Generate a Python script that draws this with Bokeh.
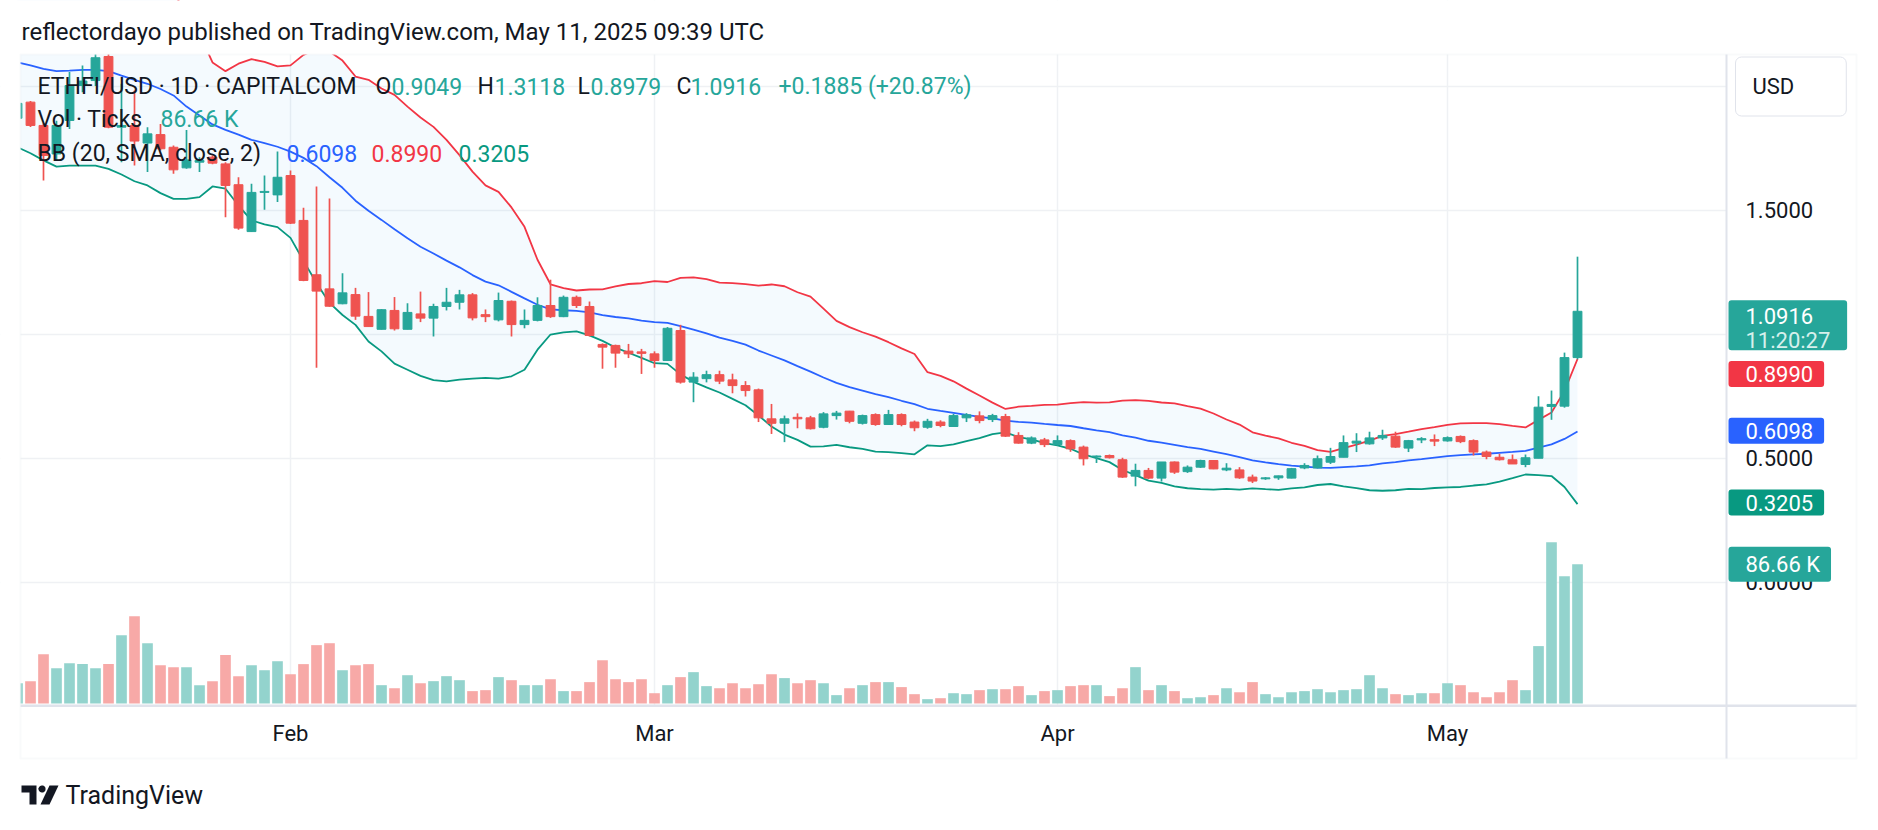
import numpy as np
import pandas as pd
from bokeh.plotting import figure
from bokeh.models import (Range1d, FixedTicker, Label, BoxAnnotation, PolyAnnotation, ColumnDataSource)
from bokeh.embed import file_html
from bokeh.resources import INLINE

# ---------------- data ----------------
dates = pd.date_range("2025-01-11", "2025-05-11", freq="D")

opens = [1.870, 1.935, 1.841, 1.726, 1.861, 2.002, 2.022, 2.119, 1.834, 1.841, 1.770, 1.804, 1.753, 1.670,
         1.693, 1.713, 1.686, 1.602, 1.413, 1.571, 1.561,
         1.639, 1.458, 1.239, 1.182, 1.122, 1.159, 1.071, 1.019, 1.095, 1.019, 1.081, 1.064, 1.111, 1.128,
         1.158, 1.078, 1.057, 1.132, 1.038, 1.055, 1.115, 1.070, 1.148, 1.111, 0.958, 0.954, 0.931, 0.928,
         0.920, 0.893, 1.014, 0.806, 0.820, 0.836, 0.815, 0.792, 0.775, 0.658, 0.640, 0.664, 0.662, 0.624,
         0.671, 0.689, 0.640, 0.675, 0.635, 0.675, 0.645, 0.624, 0.645, 0.627, 0.662, 0.670, 0.655, 0.667,
         0.591, 0.560, 0.573,
         0.554, 0.570, 0.544, 0.504, 0.510, 0.493, 0.427, 0.450, 0.419, 0.484, 0.445, 0.463, 0.490, 0.452,
         0.452, 0.423, 0.416, 0.420, 0.419, 0.460, 0.460, 0.483, 0.503, 0.560, 0.557, 0.581, 0.588, 0.540,
         0.573, 0.574,
         0.569, 0.587, 0.570, 0.524, 0.503, 0.493, 0.474, 0.499, 0.708, 0.709, 0.9049]
highs = [1.950, 1.940, 1.850, 1.860, 2.056, 2.083, 2.160, 2.170, 2.009, 1.982, 1.834, 1.847, 1.760, 1.823,
         1.713, 1.720, 1.693, 1.632, 1.606, 1.639, 1.736,
         1.659, 1.509, 1.595, 1.546, 1.245, 1.186, 1.169, 1.100, 1.149, 1.124, 1.171, 1.122, 1.186, 1.178,
         1.165, 1.099, 1.167, 1.135, 1.099, 1.148, 1.219, 1.155, 1.155, 1.131, 0.962, 0.957, 0.960, 0.940,
         0.930, 1.028, 1.037, 0.846, 0.852, 0.852, 0.840, 0.810, 0.780, 0.718, 0.671, 0.680, 0.670, 0.685,
         0.690, 0.690, 0.675, 0.680, 0.694, 0.680, 0.651, 0.658, 0.652, 0.678, 0.681, 0.688, 0.678, 0.678,
         0.604, 0.587, 0.581,
         0.591, 0.575, 0.550, 0.510, 0.514, 0.501, 0.477, 0.460, 0.484, 0.486, 0.470, 0.493, 0.492, 0.479,
         0.463, 0.433, 0.423, 0.429, 0.460, 0.479, 0.510, 0.541, 0.591, 0.600, 0.606, 0.614, 0.606, 0.573,
         0.584, 0.595,
         0.587, 0.591, 0.575, 0.530, 0.517, 0.514, 0.514, 0.749, 0.772, 0.925, 1.3118]
lows = [1.850, 1.835, 1.619, 1.700, 1.827, 1.975, 2.000, 1.830, 1.693, 1.679, 1.653, 1.740, 1.646, 1.666,
        1.653, 1.685, 1.471, 1.420, 1.411, 1.501, 1.532,
        1.444, 1.213, 0.864, 1.110, 1.120, 1.057, 1.030, 1.018, 1.014, 1.019, 1.048, 0.990, 1.095, 1.099,
        1.055, 1.048, 1.051, 0.990, 1.023, 1.051, 1.065, 1.068, 1.105, 0.990, 0.860, 0.864, 0.903, 0.839,
        0.864, 0.893, 0.800, 0.725, 0.805, 0.798, 0.761, 0.748, 0.645, 0.597, 0.564, 0.620, 0.615, 0.620,
        0.655, 0.640, 0.635, 0.630, 0.633, 0.628, 0.608, 0.618, 0.624, 0.625, 0.645, 0.640, 0.645, 0.585,
        0.558, 0.556, 0.544,
        0.550, 0.525, 0.470, 0.480, 0.498, 0.420, 0.386, 0.415, 0.405, 0.436, 0.440, 0.460, 0.455, 0.447,
        0.416, 0.399, 0.412, 0.412, 0.418, 0.455, 0.458, 0.476, 0.503, 0.524, 0.554, 0.573, 0.541, 0.524,
        0.560, 0.548,
        0.566, 0.560, 0.510, 0.495, 0.490, 0.476, 0.463, 0.499, 0.654, 0.703, 0.8979]
closes = [1.930, 1.841, 1.720, 1.841, 2.002, 2.020, 2.114, 1.834, 1.841, 1.778, 1.807, 1.747, 1.662, 1.702,
          1.700, 1.689, 1.599, 1.427, 1.571, 1.575, 1.632,
          1.447, 1.216, 1.173, 1.112, 1.166, 1.072, 1.030, 1.098, 1.021, 1.087, 1.064, 1.111, 1.128, 1.158,
          1.065, 1.070, 1.135, 1.038, 1.055, 1.115, 1.070, 1.148, 1.115, 0.994, 0.947, 0.923, 0.920, 0.922,
          0.893, 1.023, 0.806, 0.826, 0.836, 0.810, 0.792, 0.772, 0.662, 0.640, 0.658, 0.658, 0.618, 0.678,
          0.681, 0.648, 0.671, 0.635, 0.675, 0.635, 0.622, 0.648, 0.631, 0.671, 0.674, 0.651, 0.671, 0.588,
          0.560, 0.581, 0.554,
          0.570, 0.537, 0.497, 0.508, 0.501, 0.423, 0.450, 0.419, 0.484, 0.443, 0.463, 0.490, 0.456, 0.459,
          0.420, 0.407, 0.420, 0.428, 0.457, 0.470, 0.497, 0.506, 0.562, 0.568, 0.581, 0.591, 0.544, 0.570,
          0.578, 0.568,
          0.582, 0.566, 0.524, 0.506, 0.493, 0.476, 0.501, 0.705, 0.716, 0.9049, 1.0916]
volume_k = [12.6, 13.9, 30.7, 22.0, 25.1, 24.5, 22.0, 24.5, 42.5, 54.3, 37.5, 23.8, 22.6, 22.6, 11.4, 13.9,
            30.1, 17.0, 23.8, 20.7, 26.3,
            18.2, 24.5, 36.3, 37.5, 20.7, 23.8, 24.5, 11.4, 9.5, 17.6, 12.6, 13.9, 17.0, 14.5, 7.7, 8.3,
            16.4, 14.5, 11.4, 11.4, 15.1, 7.7, 7.7, 13.3, 26.9, 15.1, 13.3, 15.1,
            6.4, 11.4, 16.4, 19.5, 10.8, 9.5, 12.6, 9.5, 12.0, 18.2, 15.8, 12.6, 14.5, 12.6, 5.2, 9.5, 11.4,
            13.3, 13.3, 10.2, 5.8, 2.7, 3.3, 6.4, 5.8, 8.3, 8.9, 8.9, 10.8, 5.2, 7.7,
            8.3, 10.8, 11.4, 11.4, 4.6, 9.5, 22.6, 8.3, 11.4, 7.7, 3.3, 3.9, 5.2, 9.5, 7.0, 13.3, 5.8, 3.9,
            7.0, 7.7, 8.9, 7.0, 8.3, 8.9, 17.6, 9.5, 5.8, 5.2, 6.4, 6.4,
            12.6, 11.4, 7.0, 3.9, 7.0, 14.5, 8.3, 35.7, 100.3, 79.2, 86.66]
# Bollinger values for the first 19 days (their 20-day window starts before the visible range)
bb_basis_head = [2.095, 2.083, 2.069, 2.060, 2.062, 2.065, 2.065, 2.060, 2.042, 2.025, 2.009, 1.988,
                 1.962, 1.917, 1.881, 1.845, 1.823, 1.804, 1.783]
bb_lower_head = [1.753, 1.729, 1.700, 1.675, 1.679, 1.679, 1.679, 1.666, 1.643, 1.616, 1.599, 1.568,
                 1.545, 1.545, 1.552, 1.595, 1.586, 1.518, 1.458]
month_ticks = ["2025-02-01", "2025-03-01", "2025-04-01", "2025-05-01"]
price_ticks = [0.0, 0.5, 1.0, 1.5, 2.0]
last_values = dict(open=0.9049, high=1.3118, low=0.8979, close=1.0916, change="+0.1885 (+20.87%)",
                   volume="86.66 K", bb_basis=0.6098, bb_upper=0.8990, bb_lower=0.3205,
                   countdown="11:20:27")

# ---------------- derived ----------------
UP, DN = "#26a69a", "#ef5350"
VUP, VDN = "#93d3cd", "#f7a9a7"
INK = "#131722"
o = np.array(opens); h = np.array(highs); l = np.array(lows); c = np.array(closes)
n = len(c)
basis = np.zeros(n); upper = np.zeros(n); lower = np.zeros(n)
for i in range(n):
    if i >= 19:
        w = c[i - 19:i + 1]
        m, s = w.mean(), w.std()
        basis[i], upper[i], lower[i] = m, m + 2 * s, m - 2 * s
    else:
        basis[i] = bb_basis_head[i]
        lower[i] = bb_lower_head[i]
        upper[i] = 2 * basis[i] - lower[i]

up = c >= o
src = ColumnDataSource(dict(
    x=dates, o=o, h=h, l=l, c=c,
    top=np.maximum(o, c), bottom=np.minimum(o, c),
    color=[UP if u else DN for u in up],
    vcolor=[VUP if u else VDN for u in up],
    vol=volume_k, basis=basis, upper=upper, lower=lower))

DAY = pd.Timedelta(days=1)
FONT = "Roboto"
W, H = 1878, 830
PX_DAY = 13.0          # layout: pixels per daily bar
X_FIRST = 17.0         # layout: page x of first bar

x0 = (dates[0] - DAY * (X_FIRST / PX_DAY)).to_pydatetime()
x1 = (dates[0] + DAY * ((W - X_FIRST) / PX_DAY)).to_pydatetime()

p = figure(width=W, height=H, x_axis_type="datetime",
           x_axis_location=None, y_axis_location=None,
           x_range=Range1d(x0, x1), y_range=Range1d(-1.0020, 2.3448),
           output_backend="svg", toolbar_location=None, title=None,
           min_border_left=0, min_border_right=0, min_border_top=0, min_border_bottom=0)
p.background_fill_color = "white"
p.border_fill_color = "white"
p.outline_line_color = None
p.extra_y_ranges = {"vol": Range1d(-79.0, 437.3)}

tick_ms = [pd.Timestamp(t).value // 10**6 for t in month_ticks]
p.xgrid.ticker = FixedTicker(ticks=tick_ms)
p.ygrid.ticker = FixedTicker(ticks=price_ticks)
p.xgrid.grid_line_color = "#eff1f4"
p.ygrid.grid_line_color = "#eff1f4"
p.xgrid.grid_line_width = 1.5
p.ygrid.grid_line_width = 1.5

# volume
p.vbar(x="x", top="vol", bottom=0, width=DAY * 0.82, fill_color="vcolor", line_color=None,
       source=src, y_range_name="vol")
# Bollinger bands
p.varea(x="x", y1="lower", y2="upper", source=src, fill_color="#2196f3", fill_alpha=0.05)
p.line(x="x", y="upper", source=src, line_color="#f23645", line_width=1.8)
p.line(x="x", y="lower", source=src, line_color="#089981", line_width=1.8)
p.line(x="x", y="basis", source=src, line_color="#2962ff", line_width=1.8)
# candles
p.segment(x0="x", y0="l", x1="x", y1="h", line_color="color", line_width=1.7, source=src)
p.vbar(x="x", top="top", bottom="bottom", width=DAY * 0.68, fill_color="color", line_color="color",
       line_width=1, source=src)


# ---- page furniture (screen units: x from left, y from bottom of the page) ----
def sbox(X0, X1, Y0, Y1, fill="white", line=None, lw=1, level="annotation"):
    return BoxAnnotation(left=X0, right=X1, top=H - Y0, bottom=H - Y1,
                         left_units="screen", right_units="screen", top_units="screen",
                         bottom_units="screen", fill_color=fill if fill else "white",
                         fill_alpha=1 if fill else 0, line_color=line, line_width=lw, level=level)


# mask everything outside the chart pane
p.add_layout(sbox(0, W, 0, 54))
p.add_layout(sbox(0, 20, 0, H))
p.add_layout(sbox(1726, W, 0, H))
p.add_layout(sbox(0, W, 705, H))
# frame lines
p.add_layout(sbox(20, 1856, 54, 758, fill=None, line="#eceef2", lw=2))
p.add_layout(sbox(1725, 1727, 54, 758, fill="#e0e3eb"))
p.add_layout(sbox(20, 1856, 704, 706.5, fill="#e0e3eb"))


def slab(text, X, Y, color=INK, size=22, **kw):
    return Label(x=X, y=H - Y, x_units="screen", y_units="screen", text=text,
                 text_font=FONT, text_font_size=f"{size}px", text_color=color,
                 text_baseline="middle", text_align="left", level="overlay", **kw)


def pbox(text, yv, bg, pad_r, y_off=0, pad_t=5, pad_b=5, rng="default", color="white"):
    # box left edge sits at page x 1728, text starts 17 px further right
    return Label(x=1728, x_units="screen", y=yv, y_units="data", y_range_name=rng,
                 y_offset=y_off, text=text, text_font=FONT, text_font_size="22px",
                 text_color=color, text_baseline="middle", text_align="left",
                 background_fill_color=bg, border_radius=3,
                 padding=dict(left=17, right=pad_r, top=pad_t, bottom=pad_b), level="overlay")


# price scale tick labels
for t in price_ticks:
    p.add_layout(Label(x=1745, x_units="screen", y=t, y_units="data", text=f"{t:.4f}",
                       text_font=FONT, text_font_size="22px", text_color=INK,
                       text_baseline="middle", text_align="left", level="overlay"))
# time scale tick labels
for t, ms in zip(month_ticks, tick_ms):
    p.add_layout(Label(x=ms, x_units="data", y=H - 733, y_units="screen",
                       text=pd.Timestamp(t).strftime("%b"), text_font=FONT, text_font_size="22px",
                       text_color=INK, text_baseline="middle", text_align="center", level="overlay"))

# header / legend
LG = 23
p.add_layout(slab("reflectordayo published on TradingView.com, May 11, 2025 09:39 UTC", 21, 31, size=24))
p.add_layout(slab("ETHFI/USD · 1D · CAPITALCOM", 37, 86, size=LG))
for t, X, col in [("O", 375, INK), (f"{last_values['open']:.4f}", 391, UP),
                  ("H", 477, INK), (f"{last_values['high']:.4f}", 494, UP),
                  ("L", 577, INK), (f"{last_values['low']:.4f}", 590, UP),
                  ("C", 676, INK), (f"{last_values['close']:.4f}", 690, UP),
                  (last_values["change"], 778, UP)]:
    p.add_layout(slab(t, X, 86, color=col, size=LG))
p.add_layout(slab("Vol · Ticks", 37, 119, size=LG))
p.add_layout(slab(last_values["volume"], 160, 119, color=UP, size=LG))
p.add_layout(slab("BB (20, SMA, close, 2)", 37, 153, size=LG))
p.add_layout(slab(f"{last_values['bb_basis']:.4f}", 286, 153, color="#2962ff", size=LG))
p.add_layout(slab(f"{last_values['bb_upper']:.4f}", 371, 153, color="#f23645", size=LG))
p.add_layout(slab(f"{last_values['bb_lower']:.4f}", 458, 153, color="#089981", size=LG))

# price-scale value boxes
p.add_layout(pbox(f"{last_values['close']:.4f}", last_values["close"], "#26a69a", 34, y_off=-14,
                  pad_t=8, pad_b=26))
p.add_layout(slab(last_values["countdown"], 1745, 340, color="#d6f0ec"))
p.add_layout(pbox(f"{last_values['bb_upper']:.4f}", last_values["bb_upper"], "#f23645", 11, y_off=-15))
p.add_layout(pbox(f"{last_values['bb_basis']:.4f}", last_values["bb_basis"], "#2962ff", 11))
p.add_layout(pbox(f"{last_values['bb_lower']:.4f}", last_values["bb_lower"], "#089981", 11))
p.add_layout(pbox(last_values["volume"], volume_k[-1], "#26a69a", 11, rng="vol"))
p.add_layout(slab("USD", 1735, 86, background_fill_color="white", border_line_color="#e0e3eb",
                  border_radius=6, padding=dict(left=17, right=52, top=17, bottom=17)))


# TradingView logo
def poly(pts):
    return PolyAnnotation(xs=[a for a, b in pts], ys=[H - b for a, b in pts],
                          xs_units="screen", ys_units="screen", fill_color=INK, fill_alpha=1,
                          line_color=None, level="overlay")


p.add_layout(poly([(21, 785), (36, 785), (36, 804), (29, 804), (29, 792), (21, 792)]))
circ = [(41.5 + 3.6 * np.cos(t), 788.5 + 3.6 * np.sin(t)) for t in np.linspace(0, 2 * np.pi, 16)]
p.add_layout(poly(circ))
p.add_layout(poly([(49, 785), (58, 785), (49, 804), (40, 804)]))
p.add_layout(slab("TradingView", 65, 795, size=25))

open("out.html", "w").write(file_html(p, INLINE))
